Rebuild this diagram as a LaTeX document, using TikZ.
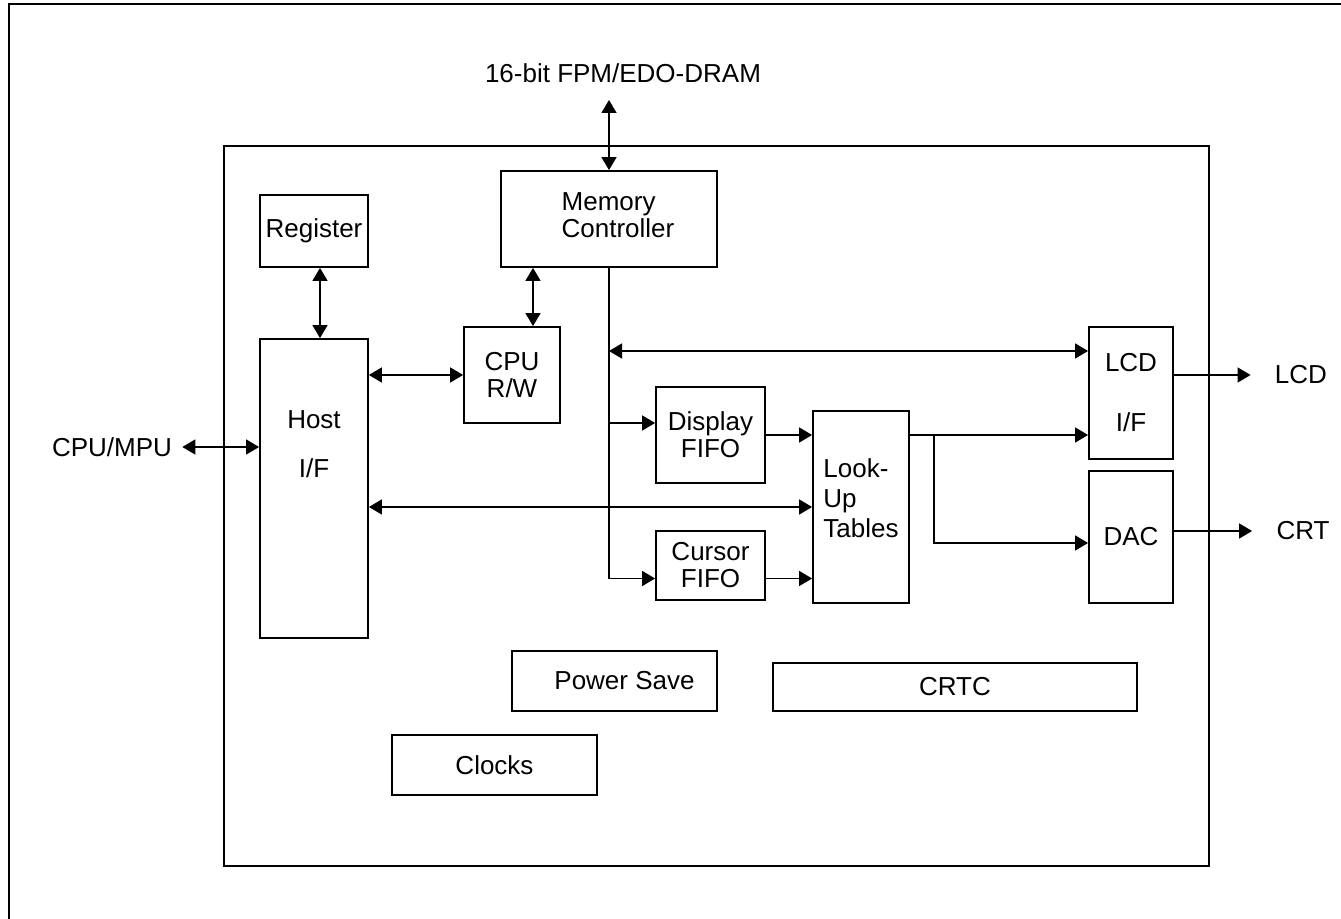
\documentclass[tikz,border=0pt]{standalone}
\usepackage{fontspec}
\setmainfont{Liberation Sans}
\usetikzlibrary{arrows.meta,positioning,calc}

\begin{document}
\begin{tikzpicture}[x=0.5pt,y=-0.5pt,
  every node/.style={font=\fontsize{13}{13.5}\selectfont},
  blk/.style={draw,line width=0.9pt,inner sep=2pt,align=center},
  port/.style={inner ysep=0pt},
  sig/.style={line width=0.75pt,-{Triangle[length=6.5pt,width=7.5pt]}},
  dbl/.style={line width=0.75pt,{Triangle[length=6.5pt,width=7.5pt]}-{Triangle[length=6.5pt,width=7.5pt]}}]
  \useasboundingbox (0,0) rectangle (1341,919);
  % page frame and chip outline
  \draw[line width=1pt] (9,919) -- (9,4) -- (1341,4);
  \draw[line width=1.3pt] (224,146) rectangle (1209,866);
  % blocks
  \node[blk,minimum width=54pt,minimum height=36pt] (reg) at (314,231) {Register};
  \node[blk,minimum width=108pt,minimum height=48pt,label={[xshift=4.5pt,yshift=2pt,align=left]center:Memory\\Controller}] (mem) at (609,219) {};
  \node[blk,minimum width=48pt,minimum height=48pt] (cpu) at (512,375) {CPU\\R/W};
  \node[blk,minimum width=54pt,minimum height=149.5pt,label={[yshift=22pt,align=center]center:Host\\[11pt]I/F}] (host) at (314,488.5) {};
  \node[blk,minimum width=54.5pt,minimum height=48pt] (disp) at (710.5,435) {Display\\FIFO};
  \node[blk,minimum width=54.5pt,minimum height=34.5pt] (cur) at (710.5,565.5) {Cursor\\FIFO};
  \node[blk,minimum width=48pt,minimum height=96pt,label={[yshift=4.5pt,align=left]center:Look-\\[1.5pt]Up\\[1.5pt]Tables}] (lut) at (861,507) {};
  \node[blk,minimum width=42pt,minimum height=66pt] (lcd) at (1131,393) {LCD\\[16.5pt]I/F};
  \node[blk,minimum width=42pt,minimum height=66pt] (dac) at (1131,537) {DAC};
  \node[blk,minimum width=102.5pt,minimum height=30pt,label={[xshift=5pt]center:Power Save}] (pwr) at (614.5,681) {};
  \node[blk,minimum width=182pt,minimum height=24pt] (crtc) at (955,687) {CRTC};
  \node[blk,minimum width=102.5pt,minimum height=30pt] (clk) at (494.5,765) {Clocks};
  % outside pins
  \node (dram) at (623,73) {16-bit FPM/EDO-DRAM};
  \coordinate (dramtip) at (609,100);
  \node[port,inner xsep=5pt] (mpu) at (112,447) {CPU/MPU};
  \node[port,inner xsep=12pt] (lcdout) at (1301,375) {LCD};
  \node[port,inner xsep=12pt] (crtout) at (1303,531) {CRT};
  % connections
  \draw[dbl] (mem.north) -- (dramtip);
  \draw[dbl] ([xshift=3pt]reg.south) -- ([xshift=3pt]host.north);
  \draw[dbl] ([xshift=10.5pt]cpu.north) -- ([xshift=10.5pt]cpu.north |- mem.south);
  \draw[dbl] (cpu.west) -- (cpu.west -| host.east);
  \draw[dbl] ([yshift=20.75pt]host.west -| mpu.east) -- ([yshift=20.75pt]host.west);
  \draw[sig] (mem.south) |- ([yshift=-6.5pt]cur.west);
  \draw[sig] ([yshift=6pt]disp.west -| mem.south) -- ([yshift=6pt]disp.west);
  \draw[dbl] ([yshift=21pt]lcd.west -| mem.south) -- ([yshift=21pt]lcd.west);
  \draw[dbl] (lut.west -| host.east) -- (lut.west);
  \draw[sig] (disp.east) -- (disp.east -| lut.west);
  \draw[sig] ([yshift=-6.5pt]cur.east) -- ([yshift=-6.5pt]cur.east -| lut.west);
  \draw[sig] ([yshift=36pt]lut.east) -- ([yshift=36pt]lut.east -| lcd.west);
  \draw[sig] ([yshift=36pt]lut.east) ++(12pt,0) |- ([yshift=-3pt]dac.west);
  \draw[sig] ([yshift=9pt]lcd.east) -- ([yshift=9pt]lcd.east -| lcdout.west);
  \draw[sig] ([yshift=3pt]dac.east) -- ([yshift=3pt]dac.east -| crtout.west);
\end{tikzpicture}
\end{document}
